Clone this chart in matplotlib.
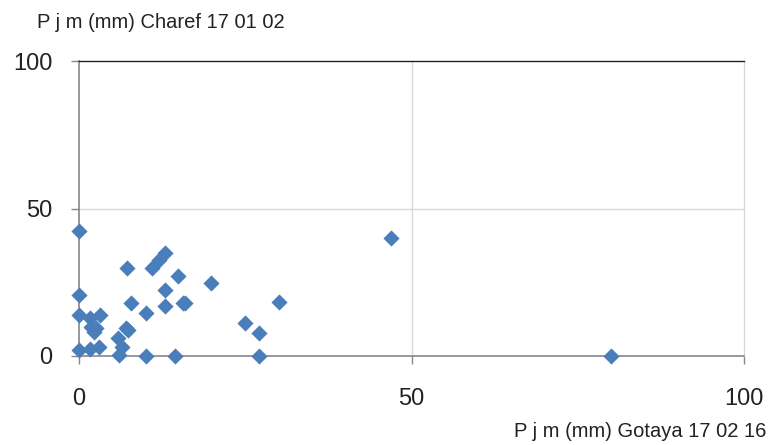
import matplotlib.pyplot as plt

plt.rcParams['font.family'] = ['Liberation Sans', 'DejaVu Sans']

# Pjm Gotaya (x) vs Pjm Charef (y), in mm
gotaya = [0.0, 0.0, 0.0, 0.0, 1.6, 3.0, 1.6, 3.1, 1.8, 2.5, 2.2,
          7.2, 7.8, 7.0, 7.4, 5.9, 6.4, 6.0, 10.0, 10.0, 11.0, 12.0,
          12.9, 14.9, 13.0, 13.0, 15.6, 16.0, 19.9, 14.4, 46.9, 30.0,
          25.0, 27.0, 27.0, 80.0]
charef = [42.4, 20.7, 14.0, 2.2, 2.3, 2.9, 12.8, 14.0, 10.0, 9.5, 8.0,
          29.7, 18.0, 9.6, 8.8, 6.0, 3.2, 0.2, 0.0, 14.7, 29.7, 32.5,
          34.9, 27.0, 22.5, 17.0, 18.0, 17.8, 24.9, 0.0, 40.1, 18.4,
          11.2, 7.8, 0.0, 0.0]

ticks = [0, 50, 100]

fig = plt.figure(figsize=(7.71, 4.45), dpi=100)
ax = fig.add_axes([79 / 771, 1 - 356 / 445, 665 / 771, 295 / 445])

ax.scatter(gotaya, charef, marker='D', s=68, color='#4A7EBB', zorder=3,
           clip_on=False, linewidths=0)

ax.set_xlim(0, 100)
ax.set_ylim(0, 100)
ax.set_xticks(ticks)
ax.set_yticks(ticks)

ax.axvline(50, color='#D9D9D9', lw=1, zorder=1)
ax.axhline(50, color='#D9D9D9', lw=1, zorder=1)

for side in ['left', 'bottom']:
    ax.spines[side].set_color('#868686')
    ax.spines[side].set_linewidth(1.2)
ax.spines['top'].set_color('#222222')
ax.spines['top'].set_linewidth(1.0)
ax.spines['right'].set_color('#D9D9D9')
ax.spines['right'].set_linewidth(1.0)

ax.tick_params(axis='both', direction='out', length=6, width=1,
               color='#868686', labelsize=17, labelcolor='#222222')
ax.tick_params(axis='x', pad=17)
ax.tick_params(axis='y', pad=13)

fig.text(37 / 771, 1 - 28 / 445, 'P j m (mm) Charef 17 01 02',
         fontsize=14.5, color='#222222', ha='left', va='baseline')
fig.text(766 / 771, 1 - 437 / 445, 'P j m (mm) Gotaya 17 02 16',
         fontsize=14.5, color='#222222', ha='right', va='baseline')

fig.savefig('out.png', dpi=100)
